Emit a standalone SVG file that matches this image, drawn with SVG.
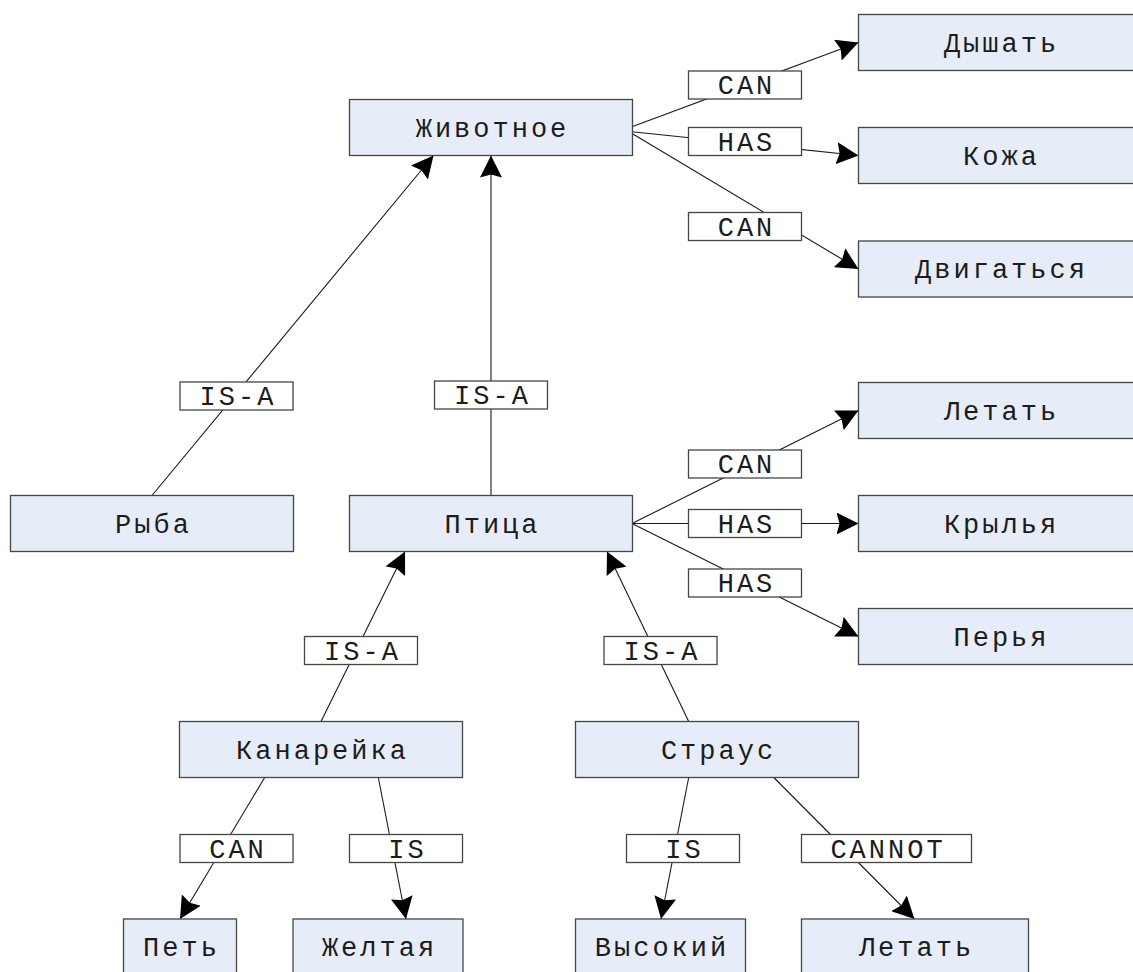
<svg xmlns="http://www.w3.org/2000/svg" width="1133" height="972" viewBox="0 0 1133 972">
<style>
.node rect{fill:#E6EDF8;stroke:#454545;stroke-width:1.3}
.lbl rect{fill:#FFFFFF;stroke:#454545;stroke-width:1.3}
text{font-family:"Liberation Mono","DejaVu Sans Mono",monospace;font-size:27px;letter-spacing:3px;fill:#1c1c1c;text-anchor:middle}
.edges line{stroke:#1a1a1a;stroke-width:1.1;fill:none}
.edges line.a{marker-end:url(#arr)}
</style>
<defs>
<marker id="arr" viewBox="0 0 22 22" refX="22" refY="11" markerWidth="22" markerHeight="22" orient="auto" markerUnits="userSpaceOnUse">
<path d="M0,0 L22,11 L0,22 L3,11 Z" fill="#000"/>
</marker>
</defs>
<rect width="1133" height="972" fill="#FFFFFF"/>
<g class="edges" id="connectors">
<line class="a" x1="632" y1="126.7" x2="858.5" y2="42.5"/>
<line class="a" x1="632" y1="131.7" x2="858.5" y2="155.5"/>
<line class="a" x1="632" y1="133.5" x2="858.5" y2="269"/>
<line class="a" x1="152" y1="495.5" x2="433.5" y2="155.5"/>
<line class="a" x1="491" y1="495.5" x2="491" y2="155.5"/>
<line class="a" x1="632" y1="523.5" x2="858.5" y2="410.5"/>
<line class="a" x1="632" y1="523.5" x2="858.5" y2="523.5"/>
<line class="a" x1="632" y1="523.5" x2="858.5" y2="636.5"/>
<line class="a" x1="321" y1="721.5" x2="405" y2="551.5"/>
<line class="a" x1="688.7" y1="721.5" x2="607" y2="551.5"/>
<line class="a" x1="264.7" y1="777.5" x2="180" y2="919"/>
<line class="a" x1="378.3" y1="777.5" x2="406" y2="919"/>
<line class="a" x1="688.7" y1="777.5" x2="661" y2="919"/>
<line class="a" x1="773.8" y1="777.5" x2="914.5" y2="919"/>
<g class="lbl">
<rect x="688.5" y="71" width="113" height="28"/><text x="746.5" y="94">CAN</text>
<rect x="688.5" y="127.5" width="113" height="28"/><text x="746.5" y="150.5">HAS</text>
<rect x="688.5" y="212.5" width="113" height="28"/><text x="746.5" y="235.5">CAN</text>
<rect x="180" y="382" width="113" height="28"/><text x="238" y="405">IS-A</text>
<rect x="434.5" y="381" width="113" height="28"/><text x="492.5" y="404">IS-A</text>
<rect x="688.5" y="450" width="113" height="28"/><text x="746.5" y="473">CAN</text>
<rect x="688.5" y="509.5" width="113" height="28"/><text x="746.5" y="532.5">HAS</text>
<rect x="688.5" y="569" width="113" height="28"/><text x="746.5" y="592">HAS</text>
<rect x="304.5" y="636.5" width="113" height="28"/><text x="362.5" y="659.5">IS-A</text>
<rect x="604" y="636.5" width="113" height="28"/><text x="662" y="659.5">IS-A</text>
<rect x="180" y="834.5" width="113" height="28"/><text x="238" y="857.5">CAN</text>
<rect x="349.5" y="834.5" width="113" height="28"/><text x="407.5" y="857.5">IS</text>
<rect x="626.5" y="834.5" width="113" height="28"/><text x="684.5" y="857.5">IS</text>
<rect x="801.5" y="834.5" width="170" height="28"/><text x="888" y="857.5">CANNOT</text>
</g>
</g>
<g class="node" id="n-zhivotnoe"><rect x="349.5" y="99.5" width="283" height="56"/><text x="492.5" y="136.5">Животное</text></g>
<g class="node" id="n-dyshat"><rect x="858.5" y="14.5" width="283" height="56"/><text x="1001.5" y="51.5">Дышать</text></g>
<g class="node" id="n-kozha"><rect x="858.5" y="127.5" width="283" height="56"/><text x="1001.5" y="164.5">Кожа</text></g>
<g class="node" id="n-dvigatsya"><rect x="858.5" y="241" width="283" height="56"/><text x="1001.5" y="278">Двигаться</text></g>
<g class="node" id="n-letat"><rect x="858.5" y="382.5" width="283" height="56"/><text x="1001.5" y="419.5">Летать</text></g>
<g class="node" id="n-krylya"><rect x="858.5" y="495.5" width="283" height="56"/><text x="1001.5" y="532.5">Крылья</text></g>
<g class="node" id="n-perya"><rect x="858.5" y="608.5" width="283" height="56"/><text x="1001.5" y="645.5">Перья</text></g>
<g class="node" id="n-ryba"><rect x="10.5" y="495.5" width="283" height="56"/><text x="153.5" y="532.5">Рыба</text></g>
<g class="node" id="n-ptica"><rect x="349.5" y="495.5" width="283" height="56"/><text x="492.5" y="532.5">Птица</text></g>
<g class="node" id="n-kanareyka"><rect x="179.5" y="721.5" width="283" height="56"/><text x="322.5" y="758.5">Канарейка</text></g>
<g class="node" id="n-straus"><rect x="575.5" y="721.5" width="283" height="56"/><text x="718.5" y="758.5">Страус</text></g>
<g class="node" id="n-pet"><rect x="123.5" y="919" width="113" height="56"/><text x="181.5" y="956">Петь</text></g>
<g class="node" id="n-zheltaya"><rect x="293" y="919" width="170" height="56"/><text x="379.5" y="956">Желтая</text></g>
<g class="node" id="n-vysokiy"><rect x="575.5" y="919" width="170" height="56"/><text x="662" y="956">Высокий</text></g>
<g class="node" id="n-letat2"><rect x="801.5" y="919" width="227" height="56"/><text x="916.5" y="956">Летать</text></g>
</svg>
